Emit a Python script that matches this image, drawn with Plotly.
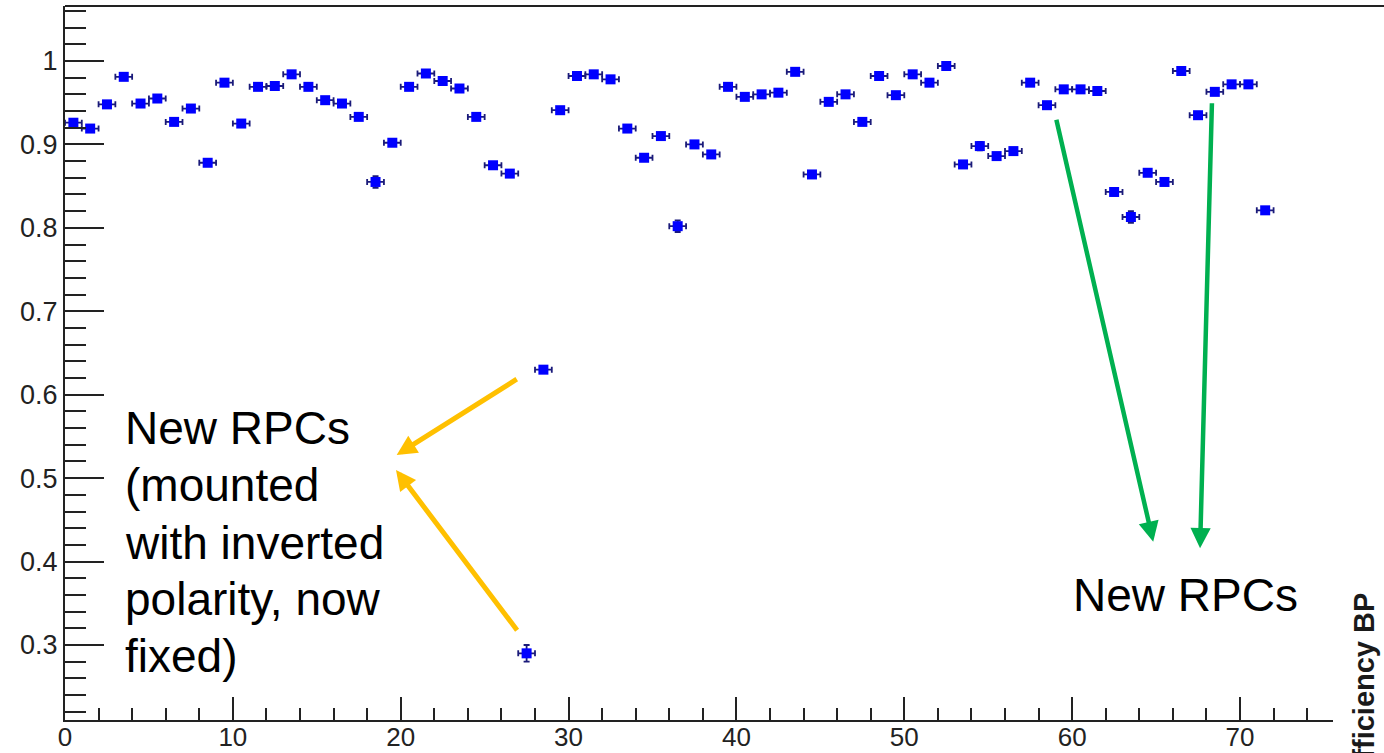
import plotly.graph_objects as go

# ---- data ----
bin_centers = [i + 0.5 for i in range(72)]
efficiency = [
    0.926, 0.919, 0.948, 0.981, 0.949, 0.955, 0.927, 0.943, 0.878, 0.974,
    0.925, 0.969, 0.970, 0.984, 0.969, 0.953, 0.949, 0.933, 0.855, 0.902,
    0.969, 0.985, 0.976, 0.967, 0.933, 0.875, 0.865, 0.290, 0.630, 0.941,
    0.982, 0.984, 0.978, 0.919, 0.884, 0.910, 0.802, 0.900, 0.888, 0.969,
    0.957, 0.960, 0.962, 0.987, 0.864, 0.951, 0.960, 0.927, 0.982, 0.959,
    0.984, 0.974, 0.994, 0.876, 0.898, 0.886, 0.892, 0.974, 0.947, 0.966,
    0.966, 0.964, 0.843, 0.813, 0.866, 0.855, 0.988, 0.935, 0.963, 0.972,
    0.972, 0.821,
]
x_err = [0.5] * 72
y_err = [
    0.003, 0.003, 0.003, 0.003, 0.003, 0.003, 0.003, 0.003, 0.003, 0.003,
    0.003, 0.003, 0.003, 0.003, 0.003, 0.003, 0.003, 0.003, 0.007, 0.003,
    0.003, 0.003, 0.003, 0.003, 0.003, 0.003, 0.003, 0.010, 0.003, 0.003,
    0.003, 0.003, 0.003, 0.003, 0.003, 0.003, 0.007, 0.003, 0.003, 0.003,
    0.003, 0.003, 0.003, 0.003, 0.003, 0.003, 0.003, 0.003, 0.003, 0.003,
    0.003, 0.003, 0.003, 0.003, 0.005, 0.003, 0.003, 0.003, 0.003, 0.003,
    0.003, 0.003, 0.004, 0.007, 0.003, 0.003, 0.003, 0.003, 0.003, 0.003,
    0.003, 0.003,
]

left_note = ["New RPCs", "(mounted", "with inverted", "polarity, now", "fixed)"]
left_note_y = [0.5601, 0.4918, 0.4223, 0.3551, 0.2868]
right_note = "New RPCs"
axis_title = "<b>Efficiency BP</b>"

FONT = "Arial, Liberation Sans, sans-serif"
W, H = 1384, 753
ML, MR, MT, MB = 65, 51, 6, 33

fig = go.Figure()
fig.add_trace(go.Scatter(
    x=bin_centers, y=efficiency, mode="markers",
    marker=dict(symbol="square", size=10, color="#0000ff", line=dict(width=0)),
    error_x=dict(type="data", array=x_err, visible=True, color="#1a1a7a", thickness=1.8, width=3),
    error_y=dict(type="data", array=y_err, visible=True, color="#1a1a7a", thickness=1.8, width=3),
    showlegend=False, hoverinfo="x+y",
))

annotations = []
for txt, yy in zip(left_note, left_note_y):
    annotations.append(dict(
        x=3.46, y=yy, xref="x", yref="y", text=txt, showarrow=False,
        xanchor="left", yanchor="middle",
        font=dict(family=FONT, size=46, color="#000000"),
    ))
annotations.append(dict(
    x=59.96, y=0.3602, xref="x", yref="y", text=right_note, showarrow=False,
    xanchor="left", yanchor="middle",
    font=dict(family=FONT, size=46, color="#000000"),
))
# arrows (tail -> tip)
arrows = [
    (27.0, 0.6197, 19.76, 0.5278, "#FFC000", 5, 0.8),
    (27.0, 0.3160, 19.72, 0.5098, "#FFC000", 5, 0.8),
    (59.04, 0.9313, 64.83, 0.4238, "#00B050", 4.5, 0.9),
    (68.33, 0.9512, 67.62, 0.4159, "#00B050", 4.5, 0.9),
]
for ax_, ay_, x_, y_, col, wid, siz in arrows:
    annotations.append(dict(
        x=x_, y=y_, ax=ax_, ay=ay_, xref="x", yref="y", axref="x", ayref="y",
        text="", showarrow=True, arrowhead=2, arrowsize=siz, arrowwidth=wid,
        arrowcolor=col, standoff=0,
    ))
pw = W - ML - MR
ph = H - MT - MB
annotations.append(dict(
    x=(1363.5 - ML) / pw, y=(H - MB - 591) / ph, xref="paper", yref="paper",
    text=axis_title, textangle=-90, showarrow=False,
    xanchor="center", yanchor="top",
    font=dict(family=FONT, size=29, color="#1a1a1a"),
))

fig.update_layout(
    width=W, height=H,
    margin=dict(l=ML, r=MR, t=MT, b=MB, pad=0, autoexpand=False),
    paper_bgcolor="white", plot_bgcolor="white",
    annotations=annotations,
    shapes=[dict(type="line", xref="paper", yref="paper",
                 x0=0, x1=(W - ML + 5) / pw, y0=1, y1=1,
                 line=dict(color="#222222", width=2))],
)
fig.update_xaxes(
    automargin=False,
    range=[0, 75.54], showgrid=False, zeroline=False,
    showline=True, linecolor="#222222", linewidth=2,
    ticks="inside", ticklen=23, tickwidth=2, tickcolor="#222222",
    tick0=0, dtick=10, ticklabelstandoff=-7,
    minor=dict(ticks="inside", ticklen=12, tickwidth=2, tickcolor="#222222", dtick=2, showgrid=False),
    tickfont=dict(family=FONT, size=26, color="#222222"),
)
fig.update_yaxes(
    automargin=False,
    range=[0.2101, 1.0659], showgrid=False, zeroline=False,
    showline=True, linecolor="#222222", linewidth=2,
    ticks="inside", ticklen=39, tickwidth=2, tickcolor="#222222",
    tick0=0, dtick=0.1, tickformat="~g",
    minor=dict(ticks="inside", ticklen=21, tickwidth=2, tickcolor="#222222", dtick=0.02, showgrid=False),
    tickfont=dict(family=FONT, size=27, color="#222222"),
)

fig.write_html("out.html")
